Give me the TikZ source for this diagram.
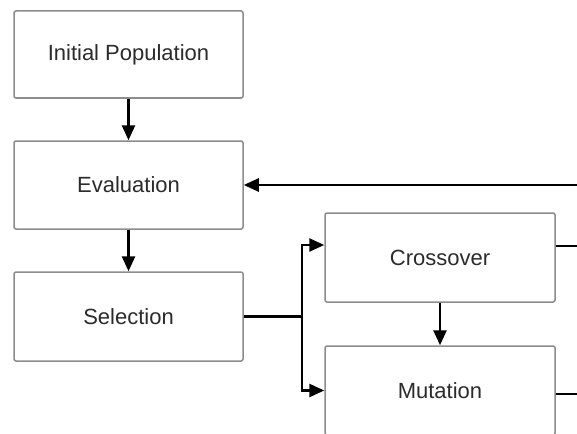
\documentclass[tikz,border=0pt]{standalone}
\usepackage{fontspec}
\setmainfont{Liberation Sans}
\usetikzlibrary{arrows.meta}
\definecolor{boxline}{HTML}{8C8C8C}
\definecolor{txt}{HTML}{2B2B2B}
\tikzset{
  stagebox/.style={draw=boxline, line width=1.5pt, rounded corners=2pt, fill=white,
    minimum width=229pt, inner sep=0pt, text=txt, font=\fontsize{22}{26}\selectfont},
  flow/.style={draw=black, line width=2.6pt, -{Triangle[length=15pt,width=13pt]}},
  plain/.style={draw=black, line width=2.6pt}
}
\begin{document}
\begin{tikzpicture}[x=1pt,y=-1pt]
\useasboundingbox (0,0) rectangle (577,433);
\clip (0,0) rectangle (577,433);
\node[stagebox, minimum height=87pt] (init) at (128.5,54.5) {Initial Population};
\node[stagebox, minimum height=88pt] (eval) at (128.5,185) {Evaluation};
\node[stagebox, minimum height=89pt] (sel) at (128.5,316.5) {Selection};
\node[stagebox, minimum width=230pt, minimum height=89pt] (cross) at (440,257.5) {\raisebox{-2pt}{Crossover}};
\node[stagebox, minimum width=230pt, minimum height=89pt] (mut) at (440,390.5) {\raisebox{-1pt}{Mutation}};
\coordinate (split) at (302,316.5);
\coordinate (fb) at (580,185);
\coordinate (cx) at (580,246);
\coordinate (mx) at (580,394);
\draw[flow] (init) -- (eval);
\draw[flow] (eval) -- (sel);
\draw[flow] (cross) -- (mut);
\draw[plain] (sel.east) -- (split);
\draw[flow] (split) |- ([yshift=12.5pt]cross.west);
\draw[flow] (split) |- (mut.west);
\draw[flow] (fb) -- (eval.east);
\draw[plain] ([yshift=11.5pt]cross.east) -- (cx);
\draw[plain] ([yshift=-3.5pt]mut.east) -- (mx);
\end{tikzpicture}
\end{document}
